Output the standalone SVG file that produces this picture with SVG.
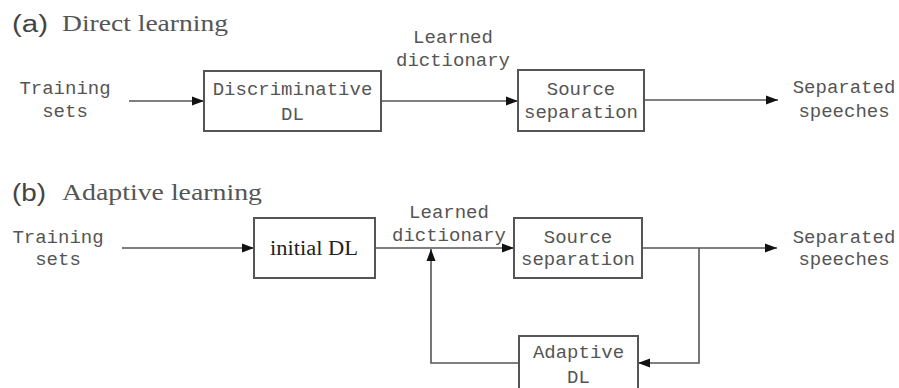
<svg xmlns="http://www.w3.org/2000/svg" width="899" height="388" viewBox="0 0 899 388">
<defs>
<marker id="arr" viewBox="0 0 12 10" refX="12" refY="5" markerWidth="12" markerHeight="10" markerUnits="userSpaceOnUse" orient="auto">
<path d="M0,0.5 L12,5 L0,9.5 z" fill="#111"/>
</marker>
</defs>
<style>
.box{fill:#fff;stroke:#555;stroke-width:2}
.ln{fill:none;stroke:#555;stroke-width:1.6}
.m{font-family:"Liberation Mono",monospace;font-size:19px;fill:#555;text-anchor:middle}
.ttl{font-family:"Liberation Serif",serif;font-size:23px;fill:#555}
.lab{font-family:"Liberation Sans",sans-serif;font-size:23px;fill:#444}
.ser{font-family:"Liberation Serif",serif;font-size:20px;fill:#222;text-anchor:middle}
</style>
<rect width="899" height="388" fill="#fff"/>
<g id="title-a">
<text class="lab" x="12" y="32" textLength="36" lengthAdjust="spacingAndGlyphs">(a)</text>
<text class="ttl" x="62" y="31" textLength="166" lengthAdjust="spacingAndGlyphs">Direct learning</text>
</g>
<g id="title-b">
<text class="lab" x="12" y="201" textLength="34" lengthAdjust="spacingAndGlyphs">(b)</text>
<text class="ttl" x="62" y="200" textLength="200" lengthAdjust="spacingAndGlyphs">Adaptive learning</text>
</g>
<g id="connectors">
<line class="ln" x1="129" y1="101" x2="204" y2="101" marker-end="url(#arr)"/>
<line class="ln" x1="381" y1="101" x2="518" y2="101" marker-end="url(#arr)"/>
<line class="ln" x1="644" y1="100" x2="778" y2="100" marker-end="url(#arr)"/>
<line class="ln" x1="122" y1="248" x2="254" y2="248" marker-end="url(#arr)"/>
<line class="ln" x1="375" y1="248" x2="514" y2="248" marker-end="url(#arr)"/>
<line class="ln" x1="642" y1="248" x2="777" y2="248" marker-end="url(#arr)"/>
<polyline class="ln" points="699,248 699,363 638,363" marker-end="url(#arr)"/>
<polyline class="ln" points="519,363 431,363 431,249" marker-end="url(#arr)"/>
</g>
<g id="training-a">
<text class="m" x="65" y="94">Training</text>
<text class="m" x="65" y="117">sets</text>
</g>
<g id="discriminative-dl">
<rect class="box" x="204" y="71" width="177" height="60"/>
<text class="m" x="292.5" y="95">Discriminative</text>
<text class="m" x="292.5" y="120">DL</text>
</g>
<g id="learned-a">
<text class="m" x="453" y="43">Learned</text>
<text class="m" x="453" y="66">dictionary</text>
</g>
<g id="source-a">
<rect class="box" x="518" y="70" width="126" height="61"/>
<text class="m" x="581" y="95">Source</text>
<text class="m" x="581" y="118">separation</text>
</g>
<g id="separated-a">
<text class="m" x="844" y="93">Separated</text>
<text class="m" x="844" y="117">speeches</text>
</g>
<g id="training-b">
<text class="m" x="58" y="243">Training</text>
<text class="m" x="58" y="265">sets</text>
</g>
<g id="initial-dl">
<rect class="box" x="254" y="218" width="121" height="60"/>
<text class="ser" x="314" y="255" textLength="88" lengthAdjust="spacingAndGlyphs">initial DL</text>
</g>
<g id="learned-b">
<text class="m" x="449" y="218">Learned</text>
<text class="m" x="449" y="241">dictionary</text>
</g>
<g id="source-b">
<rect class="box" x="514" y="218" width="128" height="60"/>
<text class="m" x="578" y="243">Source</text>
<text class="m" x="578" y="265">separation</text>
</g>
<g id="separated-b">
<text class="m" x="844" y="243">Separated</text>
<text class="m" x="844" y="265">speeches</text>
</g>
<g id="adaptive-dl">
<rect class="box" x="519" y="336" width="119" height="60"/>
<text class="m" x="578.5" y="358">Adaptive</text>
<text class="m" x="578.5" y="383">DL</text>
</g>
</svg>
